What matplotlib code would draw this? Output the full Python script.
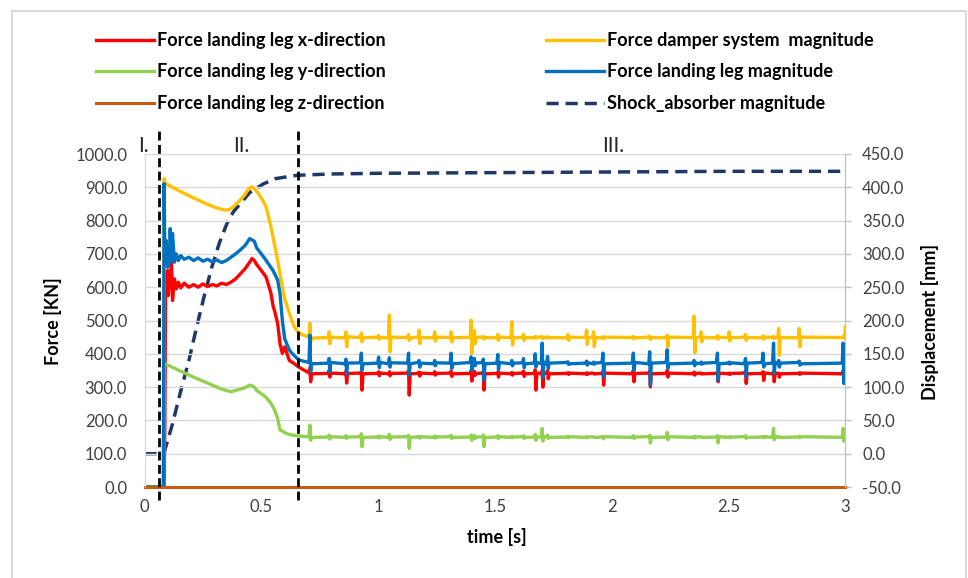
import matplotlib
matplotlib.use("Agg")
import matplotlib.pyplot as plt
from matplotlib.patches import Rectangle

plt.rcParams["font.family"] = ["Lato", "DejaVu Sans"]

# --- data ------------------------------------------------------------------
# impact / compression phase
time_impact = [0.000, 0.081, 0.084, 0.087, 0.090, 0.093, 0.096, 0.099, 0.102, 0.106,
               0.110, 0.115, 0.120, 0.128, 0.136, 0.145, 0.155, 0.170, 0.190, 0.210,
               0.230, 0.250, 0.270, 0.290, 0.310, 0.330, 0.350, 0.370, 0.390, 0.410,
               0.430, 0.440, 0.450, 0.460, 0.470, 0.480, 0.500, 0.520, 0.540, 0.550,
               0.560, 0.570, 0.580, 0.590, 0.600, 0.620, 0.640, 0.660, 0.680]
damper_impact = [0, 0, 926, 915, 912, 910, 909, 908, 907, 905,
                 904, 902, 900, 897, 894, 891, 887, 882, 875, 868,
                 862, 855, 849, 843, 838, 834, 831, 836, 848, 862,
                 878, 890, 898, 901, 895, 888, 868, 842, 785, 750,
                 715, 680, 640, 600, 565, 521, 482, 463, 456]
leg_mag_impact = [0, 0, 911, 700, 690, 740, 680, 660, 700, 670,
                  776, 680, 761, 675, 700, 680, 695, 684, 690, 680,
                  688, 678, 684, 676, 682, 674, 680, 690, 700, 712,
                  725, 735, 746, 742, 738, 718, 700, 681, 660, 650,
                  636, 621, 580, 500, 445, 411, 395, 382, 378]
leg_x_impact = [0, 0, 0, 180, 560, 640, 590, 650, 575, 630,
                600, 681, 560, 625, 595, 615, 598, 612, 600, 608,
                600, 610, 602, 608, 604, 612, 608, 615, 625, 640,
                655, 665, 675, 686, 680, 668, 650, 631, 585, 545,
                520, 490, 430, 401, 421, 380, 371, 360, 352]
leg_y_impact = [0, 0, 371, 370, 369, 368, 367, 366, 365, 364,
                363, 361, 359, 357, 354, 351, 348, 343, 336, 330,
                324, 318, 312, 306, 300, 294, 290, 286, 290, 294,
                298, 302, 306, 304, 300, 290, 280, 270, 252, 241,
                225, 205, 171, 168, 163, 158, 155, 153, 152]

# steady phase: each group of four is one noise burst
time_steady = [0.704, 0.708, 0.711, 0.715, 0.786, 0.790, 0.793, 0.797,
               0.858, 0.862, 0.865, 0.869, 0.924, 0.928, 0.931, 0.935,
               0.998, 1.002, 1.005, 1.009, 1.044, 1.048, 1.051, 1.055,
               1.126, 1.130, 1.133, 1.137, 1.171, 1.175, 1.178, 1.182,
               1.238, 1.242, 1.245, 1.249, 1.308, 1.312, 1.315, 1.319,
               1.394, 1.398, 1.401, 1.405, 1.408, 1.412, 1.415, 1.419,
               1.446, 1.450, 1.453, 1.457, 1.508, 1.512, 1.515, 1.519,
               1.568, 1.572, 1.575, 1.579, 1.618, 1.622, 1.625, 1.629,
               1.668, 1.672, 1.675, 1.679, 1.698, 1.702, 1.705, 1.709,
               1.721, 1.725, 1.728, 1.732, 1.808, 1.812, 1.815, 1.819,
               1.888, 1.892, 1.895, 1.899, 1.918, 1.922, 1.925, 1.929,
               1.958, 1.962, 1.965, 1.969, 2.088, 2.092, 2.095, 2.099,
               2.158, 2.162, 2.165, 2.169, 2.233, 2.237, 2.240, 2.244,
               2.348, 2.352, 2.355, 2.359, 2.378, 2.382, 2.385, 2.389,
               2.448, 2.452, 2.455, 2.459, 2.498, 2.502, 2.505, 2.509,
               2.568, 2.572, 2.575, 2.579, 2.643, 2.647, 2.650, 2.654,
               2.688, 2.692, 2.695, 2.699, 2.710, 2.714, 2.717, 2.721,
               2.798, 2.802, 2.805, 2.809, 2.986, 2.990, 2.993, 2.997,
               3.000]
damper_steady = [450, 491, 436, 447, 449, 466, 430, 450,
                 448, 466, 421, 451, 449, 462, 436, 448,
                 450, 455, 444, 449, 448, 516, 406, 450,
                 449, 458, 440, 448, 450, 471, 431, 449,
                 448, 466, 438, 450, 449, 466, 436, 448,
                 450, 501, 402, 455, 447, 470, 430, 449,
                 450, 452, 444, 449, 448, 458, 440, 450,
                 449, 496, 426, 448, 450, 458, 440, 449,
                 448, 452, 447, 450, 449, 452, 446, 448,
                 450, 451, 447, 449, 448, 458, 440, 450,
                 449, 471, 428, 448, 450, 466, 421, 449,
                 448, 451, 446, 450, 449, 452, 445, 448,
                 450, 453, 443, 449, 448, 456, 421, 450,
                 449, 513, 403, 448, 450, 466, 436, 449,
                 448, 455, 444, 450, 449, 466, 438, 448,
                 450, 458, 440, 449, 448, 454, 444, 450,
                 449, 452, 446, 448, 450, 476, 396, 449,
                 448, 476, 421, 450, 449, 452, 447, 450,
                 481]
leg_mag_steady = [374, 456, 346, 370, 372, 386, 346, 374,
                  370, 384, 339, 372, 373, 402, 350, 370,
                  372, 390, 358, 374, 370, 388, 360, 373,
                  372, 402, 336, 370, 374, 380, 360, 372,
                  370, 380, 364, 373, 372, 402, 356, 370,
                  374, 391, 350, 378, 368, 386, 364, 372,
                  374, 384, 321, 370, 372, 398, 352, 374,
                  370, 380, 364, 372, 373, 386, 358, 370,
                  372, 400, 360, 374, 370, 432, 330, 375,
                  368, 392, 356, 372, 374, 376, 368, 370,
                  372, 378, 366, 373, 370, 375, 369, 372,
                  374, 402, 331, 370, 372, 402, 350, 374,
                  370, 406, 306, 372, 374, 412, 356, 370,
                  372, 380, 364, 373, 370, 375, 369, 372,
                  374, 402, 321, 370, 372, 375, 369, 373,
                  370, 386, 331, 372, 374, 402, 360, 370,
                  372, 432, 340, 374, 370, 380, 360, 372,
                  374, 378, 366, 370, 372, 432, 311, 374,
                  372]
leg_x_steady = [343, 358, 316, 340, 341, 350, 330, 342,
                340, 348, 312, 341, 342, 345, 291, 340,
                341, 346, 334, 342, 340, 346, 334, 341,
                342, 350, 276, 340, 341, 345, 333, 342,
                340, 346, 336, 341, 342, 348, 332, 340,
                341, 350, 318, 343, 339, 347, 335, 341,
                342, 346, 291, 340, 341, 345, 330, 342,
                340, 344, 336, 341, 342, 348, 332, 340,
                341, 352, 291, 342, 340, 350, 300, 341,
                342, 350, 325, 340, 341, 343, 338, 342,
                340, 343, 338, 341, 342, 341, 339, 340,
                341, 348, 306, 342, 340, 350, 316, 341,
                342, 348, 301, 340, 341, 350, 330, 342,
                340, 345, 336, 341, 342, 342, 339, 340,
                341, 345, 316, 342, 340, 342, 338, 341,
                342, 348, 311, 340, 341, 346, 320, 342,
                340, 345, 316, 341, 342, 340, 330, 340,
                341, 343, 338, 342, 340, 350, 316, 341,
                341]
leg_y_steady = [151, 186, 140, 149, 150, 156, 144, 151,
                149, 154, 146, 150, 151, 160, 121, 149,
                150, 153, 147, 151, 149, 158, 143, 150,
                151, 155, 116, 149, 150, 152, 147, 151,
                149, 153, 147, 150, 151, 155, 146, 149,
                150, 156, 140, 152, 148, 155, 146, 150,
                151, 156, 121, 149, 150, 154, 146, 151,
                149, 152, 148, 150, 151, 154, 146, 149,
                150, 158, 140, 151, 149, 176, 138, 150,
                151, 156, 146, 149, 150, 152, 148, 151,
                149, 151, 148, 150, 151, 150, 149, 149,
                150, 152, 145, 151, 149, 154, 146, 150,
                151, 155, 132, 149, 150, 164, 142, 151,
                149, 152, 147, 150, 151, 151, 149, 149,
                150, 154, 132, 151, 149, 151, 148, 150,
                151, 154, 146, 149, 150, 152, 148, 151,
                149, 176, 142, 150, 151, 152, 148, 149,
                150, 152, 148, 151, 149, 176, 138, 150,
                150]

time_z = [0.0, 3.0]
leg_z = [0.0, 0.0]

# shock absorber displacement [mm] (secondary axis)
time_shock = [0.0, 0.078, 0.085, 0.120, 0.152, 0.190, 0.223, 0.255, 0.288, 0.320,
              0.352, 0.380, 0.409, 0.450, 0.508, 0.560, 0.651, 0.800, 1.0, 1.5,
              2.0, 2.5, 3.0]
shock_disp = [0, 0, 3, 45, 90, 140, 190, 236, 280, 316,
              345, 363, 375, 392, 405, 413, 418, 420, 421, 422,
              423, 424, 424]

phase_bounds = [0.063, 0.655]
phase_labels = ["I.", "II.", "III."]
phase_label_t = [-0.006, 0.413, 2.005]

time_s = time_impact + time_steady
force_damper = damper_impact + damper_steady
force_leg_mag = leg_mag_impact + leg_mag_steady
force_x = leg_x_impact + leg_x_steady
force_y = leg_y_impact + leg_y_steady

# --- figure -----------------------------------------------------------------
W, H = 968, 578
fig = plt.figure(figsize=(W / 100, H / 100), dpi=100)
ax = fig.add_axes([144.5 / W, 1 - 487 / H, 701 / W, 333 / H])
ax2 = ax.twinx()
ax.set_zorder(ax2.get_zorder() + 1)
ax.patch.set_visible(False)

fig.add_artist(Rectangle((12 / W, -0.05), 954 / W, 1.05 - 11 / H,
                         transform=fig.transFigure, fill=False,
                         edgecolor="#D9D9D9", lw=1.5))

lw = 2.4
h_x, = ax.plot(time_s, force_x, color="#FF0000", lw=lw, label="Force landing leg x-direction")
h_y, = ax.plot(time_s, force_y, color="#92D050", lw=lw, label="Force landing leg y-direction")
h_d, = ax.plot(time_s, force_damper, color="#FFC000", lw=lw, label="Force damper system  magnitude")
h_m, = ax.plot(time_s, force_leg_mag, color="#0070C0", lw=lw, label="Force landing leg magnitude")
h_z, = ax.plot(time_z, leg_z, color="#C55A11", lw=2.2, label="Force landing leg z-direction",
               clip_on=False)
h_s, = ax2.plot(time_shock, shock_disp, color="#1F3864", lw=2.5,
                linestyle=(0, (3.5, 2.0)), label="Shock_absorber magnitude")

for tb in phase_bounds:
    ax.plot([tb, tb], [-40, 1078], color="black", lw=2.0,
            linestyle=(0, (3.2, 1.6)), clip_on=False)
for lab, tl in zip(phase_labels, phase_label_t):
    ax.text(tl, 1025, lab, ha="center", va="center", fontsize=15, color="#262626")

ax.set_xlim(0, 3)
ax.set_ylim(0, 1000)
ax2.set_ylim(-50, 450)
ax.set_xticks([0, 0.5, 1, 1.5, 2, 2.5, 3])
ax.set_xticklabels(["0", "0.5", "1", "1.5", "2", "2.5", "3"])
ax.set_yticks(range(0, 1001, 100))
ax.set_yticklabels([f"{v:.1f}" for v in range(0, 1001, 100)])
ax2.set_yticks(range(-50, 451, 50))
ax2.set_yticklabels([f"{v:.1f}" for v in range(-50, 451, 50)])

tick_col = "#404040"
ax.tick_params(axis="y", length=0, pad=12.5, labelsize=12, labelcolor=tick_col)
ax.tick_params(axis="x", length=0, pad=9, labelsize=12, labelcolor=tick_col)
ax2.tick_params(axis="y", length=4, width=1, color="#BFBFBF", pad=8,
                labelsize=12, labelcolor=tick_col)

ax.yaxis.grid(True, color="#D9D9D9", lw=1)
ax.set_axisbelow(True)
for a in (ax, ax2):
    a.spines["top"].set_visible(False)
    a.spines["bottom"].set_visible(False)
    a.spines["left"].set_color("#D9D9D9")
    a.spines["right"].set_color("#BFBFBF")

fig.text(53 / W, 1 - 321 / H, "Force [KN]", rotation=90, ha="center", va="center",
         fontsize=13, fontweight="bold")
fig.text(930 / W, 1 - 322 / H, "Displacement [mm]", rotation=90, ha="center", va="center",
         fontsize=13, fontweight="bold")
fig.text(497 / W, 1 - 537 / H, "time [s]", ha="center", va="center",
         fontsize=13, fontweight="bold")

leg = fig.legend(handles=[h_x, h_y, h_z, h_d, h_m, h_s], ncol=2,
                 loc="upper left", bbox_to_anchor=(96 / W, 1 - 32 / H),
                 frameon=False, borderpad=0, borderaxespad=0,
                 prop={"size": 13, "weight": "bold"},
                 handlelength=3.2, handletextpad=0.17, columnspacing=8.9,
                 labelspacing=0.8)

fig.savefig("out.png", dpi=100)
